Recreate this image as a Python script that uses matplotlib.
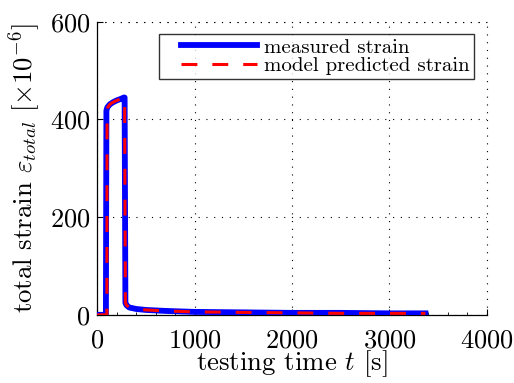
import numpy as np
import matplotlib
matplotlib.use("Agg")
import matplotlib.pyplot as plt
from matplotlib.ticker import MultipleLocator
from matplotlib.legend_handler import HandlerLine2D

plt.rcParams['font.family'] = ['cmr10']
plt.rcParams['mathtext.fontset'] = 'cm'
plt.rcParams['axes.formatter.use_mathtext'] = True

# Creep / recovery test: time [s] and total strain [1e-6]
time_measured = [0, 90, 95, 105, 130, 160, 200, 240, 275, 282, 290, 300, 330, 400, 500, 700, 1000, 1500, 2000, 2500, 3000, 3370]
strain_measured = [0, 0, 418, 425, 431, 435, 439, 442, 445, 445, 25, 20, 15, 12, 10, 8, 6, 5, 4, 4, 3, 3]

time_model = [0, 100, 102, 110, 130, 160, 200, 240, 275, 282, 290, 300, 330, 400, 500, 700, 1000, 1500, 2000, 2500, 3000, 3370]
strain_model = [0, 0, 418, 425, 431, 435, 439, 442, 445, 445, 25, 20, 15, 12, 10, 8, 6, 5, 4, 3, 3, 3]

fig = plt.figure(figsize=(5.14, 3.83), dpi=100)
ax = fig.add_axes([0.189, 0.178, 0.758, 0.765])

ax.plot(time_measured, strain_measured, color='#0000ff', lw=4.2, solid_joinstyle='round',
        label='measured strain', zorder=3)
ax.plot(time_model, strain_model, color='#ff0000', lw=2.2, dashes=(5.2, 4.9),
        label='model predicted strain', zorder=4)

ax.set_xlim(0, 4000)
ax.set_ylim(0, 600)
ax.xaxis.set_major_locator(MultipleLocator(1000))
ax.xaxis.set_minor_locator(MultipleLocator(200))
ax.yaxis.set_major_locator(MultipleLocator(200))

ax.grid(True, which='major', color='black', linestyle=(0, (1, 6)), linewidth=0.8)
ax.axhline(600, color='black', linestyle=(0, (1, 6)), linewidth=0.8, clip_on=False)
ax.axvline(4000, color='black', linestyle=(0, (1, 6)), linewidth=0.8, clip_on=False)
for s in ('top', 'right'):
    ax.spines[s].set_visible(False)
for s in ('left', 'bottom'):
    ax.spines[s].set_linewidth(0.9)

ax.tick_params(which='both', direction='in', labelsize=19)
ax.tick_params(axis='x', pad=10)
ax.tick_params(axis='y', pad=5)
ax.tick_params(which='major', length=4)
ax.tick_params(which='minor', length=2)

ax.set_xlabel(r'testing time $t$ [s]', fontsize=19.3, labelpad=-3)
ax.set_ylabel(r'total strain $\varepsilon_{total}$ $[\times 10^{-6}]$', fontsize=19.3, labelpad=5)

handler = HandlerLine2D(xpad=0.85)
leg = ax.legend(loc='upper right', bbox_to_anchor=(0.967, 0.959), fontsize=15,
                frameon=True, fancybox=False, handlelength=4.5, borderpad=0.2,
                labelspacing=0.0, handletextpad=0.35, borderaxespad=0,
                handler_map={plt.Line2D: handler})
leg.get_frame().set_edgecolor('black')
leg.get_frame().set_linewidth(1.0)

fig.savefig('out.png', dpi=100)
